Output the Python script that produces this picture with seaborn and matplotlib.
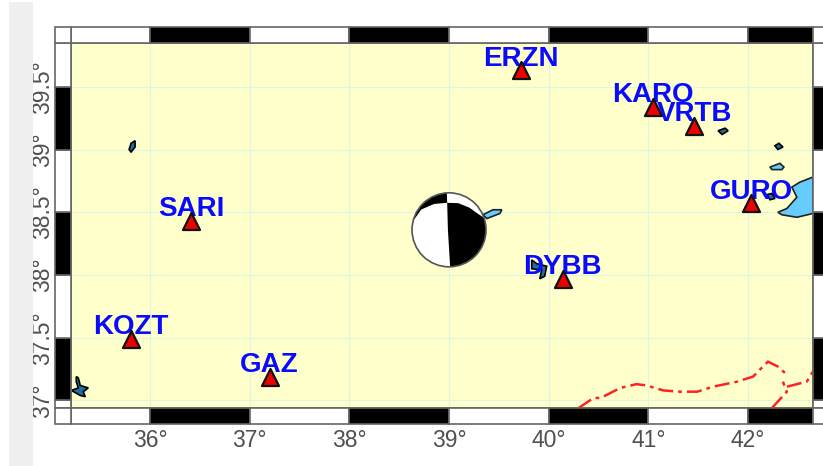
import matplotlib
matplotlib.use("Agg")
import matplotlib.pyplot as plt
import numpy as np
import pandas as pd
import seaborn as sns
from matplotlib.patches import Circle, Polygon, Rectangle
from matplotlib.transforms import Affine2D

# stations
names = ["ERZN", "KARO", "VRTB", "GURO", "SARI", "DYBB", "KOZT", "GAZ"]
lons = [39.72, 41.05, 41.46, 42.03, 36.41, 40.14, 35.81, 37.20]
lats = [39.63, 39.34, 39.19, 38.57, 38.43, 37.97, 37.49, 37.19]

# event
event_lon = 39.0
event_lat = 38.36

# nodal lines of the beachball, in units of its radius
plane_left = [(-0.97, 0.24), (-0.75, 0.55), (-0.4, 0.7), (-0.05, 0.73)]
plane_right = [(-0.05, 0.73), (0.25, 0.72), (0.55, 0.6), (0.8, 0.42), (0.94, 0.33)]
plane_down = [(0.03, -1.0), (-0.03, 0.0), (-0.05, 0.73)]

# lakes
lake_blue = [
    [(42.65, 38.78), (42.52, 38.74), (42.44, 38.70), (42.49, 38.62), (42.39, 38.53),
     (42.30, 38.50), (42.34, 38.48), (42.49, 38.46), (42.65, 38.49)],
    [(39.34, 38.48), (39.44, 38.52), (39.53, 38.52), (39.51, 38.49), (39.38, 38.45)],
    [(42.22, 38.86), (42.32, 38.89), (42.36, 38.86), (42.34, 38.84), (42.24, 38.84)],
]
lake_small = [
    [(35.79, 39.00), (35.81, 39.05), (35.85, 39.07), (35.85, 39.02), (35.81, 38.98)],
    [(41.70, 39.15), (41.77, 39.17), (41.80, 39.15), (41.74, 39.12)],
    [(42.27, 39.03), (42.31, 39.05), (42.35, 39.02), (42.30, 39.00)],
    [(42.19, 38.64), (42.24, 38.65), (42.27, 38.61), (42.22, 38.60)],
    [(35.26, 37.19), (35.28, 37.18), (35.30, 37.12), (35.38, 37.10), (35.33, 37.07),
     (35.35, 37.03), (35.30, 37.04), (35.21, 37.08), (35.28, 37.10), (35.26, 37.15)],
    [(39.83, 38.12), (39.88, 38.09), (39.98, 38.07), (39.96, 37.99), (39.91, 37.97),
     (39.93, 38.04), (39.83, 38.05)],
]

# borders
border_main = [(40.30, 36.94), (40.45, 37.02), (40.52, 37.02), (40.72, 37.10), (40.88, 37.13),
               (40.98, 37.12), (41.15, 37.08), (41.32, 37.07), (41.49, 37.07), (41.65, 37.11),
               (41.89, 37.15), (42.05, 37.19), (42.20, 37.31), (42.30, 37.27), (42.37, 37.22)]
border_south = [(42.24, 36.94), (42.39, 37.07), (42.35, 37.15)]
border_east = [(42.39, 37.11), (42.59, 37.15), (42.65, 37.23)]

xticks = [36, 37, 38, 39, 40, 41, 42]
yticks = [37, 37.5, 38, 38.5, 39, 39.5]
xticklabels = ["36°", "37°", "38°", "39°", "40°", "41°", "42°"]
yticklabels = ["37°", "37.5°", "38°", "38.5°", "39°", "39.5°"]


def arc(start, end):
    t = np.radians(np.linspace(start, end, 30))
    return list(zip(np.cos(t), np.sin(t)))


sns.set_theme(style="white")
plt.rcParams["font.family"] = ["Liberation Sans", "DejaVu Sans"]

W, H = 823, 466
fig = plt.figure(figsize=(W / 100, H / 100), dpi=100)
fig.patches.append(Rectangle((9 / W, 0), 24 / W, 464 / H, transform=fig.transFigure,
                             facecolor="#efefef", edgecolor="none", figure=fig))

ax = fig.add_axes([71 / W, (H - 408) / H, 742 / W, 365 / H])
xmin, xmax = 35.207, 42.652
ymin, ymax = 36.94, 39.849
ax.set_xlim(xmin, xmax)
ax.set_ylim(ymin, ymax)
ax.set_facecolor("#ffffcc")
ax.grid(True, color="#dcf5e4", linewidth=0.8)
ax.set_axisbelow(True)

# map frame, alternating stripes
fx = 0.157
fy = 0.127
frame_kw = dict(edgecolor="#666666", linewidth=1.2, clip_on=False, zorder=5)
xedges = [xmin] + xticks + [xmax]
for i in range(len(xedges) - 1):
    color = "black" if i % 2 == 1 else "white"
    for y0 in (ymin - fy, ymax):
        ax.add_patch(Rectangle((xedges[i], y0), xedges[i + 1] - xedges[i], fy,
                               facecolor=color, **frame_kw))
yedges = [ymin] + yticks + [ymax]
for i in range(len(yedges) - 1):
    color = "black" if i % 2 == 1 else "white"
    for x0 in (xmin - fx, xmax):
        ax.add_patch(Rectangle((x0, yedges[i]), fx, yedges[i + 1] - yedges[i],
                               facecolor=color, **frame_kw))
for x0 in (xmin - fx, xmax):
    for y0 in (ymin - fy, ymax):
        ax.add_patch(Rectangle((x0, y0), fx, fy, facecolor="white", **frame_kw))

for lake in lake_blue:
    ax.add_patch(Polygon(lake, facecolor="#66ccff", edgecolor="#222222", linewidth=1.2, zorder=2))
for lake in lake_small:
    ax.add_patch(Polygon(lake, facecolor="#1f6f9f", edgecolor="black", linewidth=1.2, zorder=2))

for border in (border_main, border_south, border_east):
    ax.plot([p[0] for p in border], [p[1] for p in border], color="#ff2222",
            linewidth=1.8, dashes=(6, 2, 1.5, 2), zorder=3)

# beachball, drawn in pixels so it stays round
r = 37
centre = ax.transData.transform((event_lon, event_lat))
ball = Affine2D().scale(r).translate(centre[0], centre[1])
ax.add_patch(Circle((0, 0), 1, transform=ball, facecolor="white", edgecolor="none", zorder=4))
cap = plane_left + arc(93.4, 166)
ax.add_patch(Polygon(cap, transform=ball, facecolor="black", edgecolor="none", zorder=4))
lobe = plane_right + arc(19.3, -88.3) + plane_down
ax.add_patch(Polygon(lobe, transform=ball, facecolor="black", edgecolor="none", zorder=4))
ax.add_patch(Circle((0, 0), 1, transform=ball, facecolor="none", edgecolor="#555555",
                    linewidth=1.2, zorder=4))

df = pd.DataFrame({"name": names, "lon": lons, "lat": lats})
for name, lon, lat in zip(names, lons, lats):
    ax.annotate(name, (lon, lat), xytext=(0, 8.5), textcoords="offset points", ha="center",
                va="center", color="#0a0aff", fontsize=20, fontweight="bold", zorder=6)
sns.scatterplot(data=df, x="lon", y="lat", marker="^", s=150, color="#ee0000",
                edgecolor="#111111", linewidth=1.6, zorder=7, ax=ax, clip_on=False)

ax.set_xticks(xticks)
ax.set_xticklabels(xticklabels, fontsize=16.5, color="#505050")
ax.set_yticks(yticks)
ax.set_yticklabels(yticklabels, fontsize=16.5, color="#505050", rotation=90, va="center")
ax.tick_params(axis="x", length=0, pad=15)
ax.tick_params(axis="y", length=0, pad=12)
ax.set_xlabel("")
ax.set_ylabel("")
for side in ax.spines.values():
    side.set_color("#666666")

fig.savefig("out.png", dpi=100)
